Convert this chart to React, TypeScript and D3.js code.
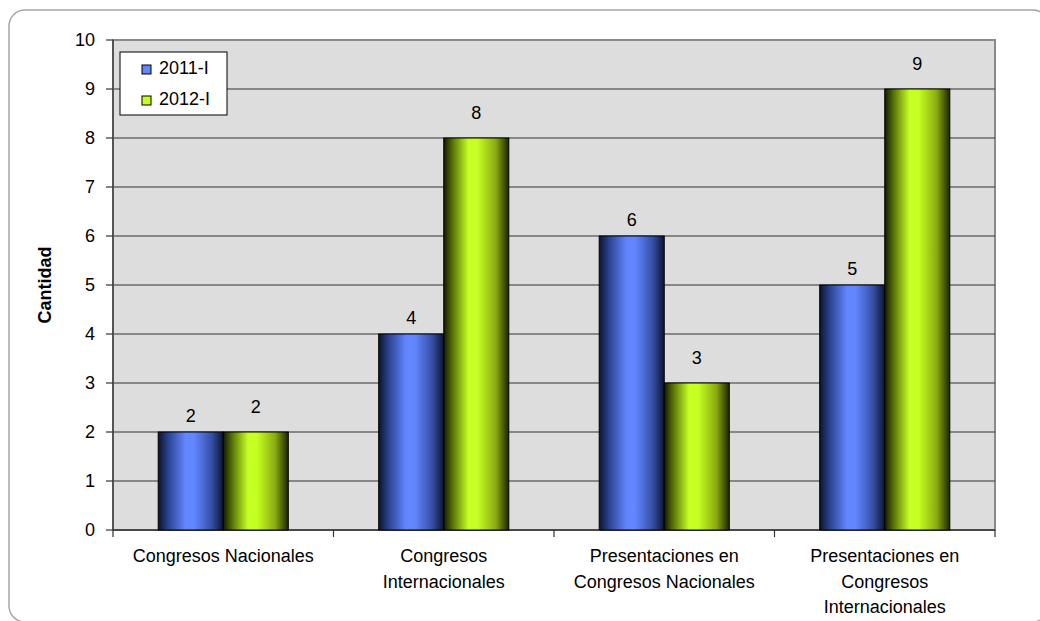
import React, { useEffect } from "react";
import * as d3 from "d3";

// chart data
const categories = [
  ["Congresos Nacionales"],
  ["Congresos", "Internacionales"],
  ["Presentaciones en", "Congresos Nacionales"],
  ["Presentaciones en", "Congresos", "Internacionales"],
];
const seriesNames = ["2011-I", "2012-I"];
const values2011 = [2, 4, 6, 5];
const values2012 = [2, 8, 3, 9];
const yTicks = [0, 1, 2, 3, 4, 5, 6, 7, 8, 9, 10];

const W = 1040;
const H = 621;
const FONT = "'Liberation Sans', Arial, sans-serif";

export default function App() {
  useEffect(() => {
    document.body.style.margin = "0";
  }, []);

  const left = 113;
  const right = 995;
  const top = 40;
  const bottom = 530;

  const x = d3
    .scaleBand<number>()
    .domain(d3.range(categories.length))
    .range([left, right])
    .paddingInner(0.41)
    .paddingOuter(0.205);
  const y = d3.scaleLinear().domain([0, 10]).range([bottom, top]);
  const bw = x.bandwidth() / 2;

  const series = [
    { name: seriesNames[0], values: values2011, grad: "gBlue", swatch: "#6384ff", labelOff: 10 },
    { name: seriesNames[1], values: values2012, grad: "gGreen", swatch: "#c4ff22", labelOff: 19 },
  ];

  // category boundaries for x ticks
  const step = x.step();
  const boundaries = d3.range(categories.length + 1).map((i) => left + i * step);

  return (
    <svg width={W} height={H} style={{ display: "block", background: "#fff" }} fontFamily={FONT}>
      <defs>
        <linearGradient id="gBlue" x1="0" x2="1" y1="0" y2="0">
          <stop offset="0%" stopColor="#0c142c" />
          <stop offset="15%" stopColor="#2a4290" />
          <stop offset="42%" stopColor="#6286ff" />
          <stop offset="55%" stopColor="#6286ff" />
          <stop offset="82%" stopColor="#3650a6" />
          <stop offset="100%" stopColor="#0c1430" />
        </linearGradient>
        <linearGradient id="gGreen" x1="0" x2="1" y1="0" y2="0">
          <stop offset="0%" stopColor="#141a00" />
          <stop offset="15%" stopColor="#5e7a08" />
          <stop offset="38%" stopColor="#c6ff22" />
          <stop offset="52%" stopColor="#c6ff22" />
          <stop offset="80%" stopColor="#8aaa14" />
          <stop offset="100%" stopColor="#1c2400" />
        </linearGradient>
      </defs>

      {/* outer chart border */}
      <rect x={9} y={10} width={1040} height={612} rx={16} ry={16} fill="#fff" stroke="#a6a6a6" strokeWidth={1.5} />

      {/* plot area */}
      <rect x={left} y={top} width={right - left} height={bottom - top} fill="#dddddd" stroke="#8a8a8a" strokeWidth={2} />

      {/* gridlines */}
      {yTicks.slice(1, -1).map((t) => (
        <line key={"g" + t} x1={left} x2={right} y1={y(t)} y2={y(t)} stroke="#333" strokeWidth={1.2} />
      ))}

      {/* axes */}
      <line x1={left} x2={left} y1={top} y2={bottom} stroke="#555" strokeWidth={2} />
      <line x1={left} x2={right} y1={bottom} y2={bottom} stroke="#333" strokeWidth={1.5} />
      {yTicks.map((t) => (
        <g key={"t" + t}>
          <line x1={left - 7} x2={left} y1={y(t)} y2={y(t)} stroke="#333" strokeWidth={1.2} />
          <text x={95} y={y(t)} dy="0.36em" textAnchor="end" fontSize={18} fill="#000">
            {t}
          </text>
        </g>
      ))}
      {boundaries.map((b, i) => (
        <line key={"xb" + i} x1={b} x2={b} y1={bottom} y2={bottom + 7} stroke="#333" strokeWidth={1.2} />
      ))}

      {/* bars */}
      {series.map((s, si) =>
        s.values.map((v, i) => {
          const bx = (x(i) as number) + si * bw;
          return (
            <g key={s.name + i}>
              <rect
                x={bx}
                y={y(v)}
                width={bw}
                height={y(0) - y(v)}
                fill={`url(#${s.grad})`}
                stroke="#000"
                strokeWidth={1}
              />
              <text x={bx + bw / 2} y={y(v) - s.labelOff} textAnchor="middle" fontSize={18} fill="#000">
                {v}
              </text>
            </g>
          );
        })
      )}

      {/* category labels */}
      {categories.map((lines, i) => (
        <text key={"c" + i} x={(x(i) as number) + x.bandwidth() / 2} y={562} textAnchor="middle" fontSize={18} fill="#000">
          {lines.map((l, j) => (
            <tspan key={j} x={(x(i) as number) + x.bandwidth() / 2} dy={j === 0 ? 0 : 25.5}>
              {l}
            </tspan>
          ))}
        </text>
      ))}

      {/* y axis title */}
      <text transform="translate(51,285) rotate(-90)" textAnchor="middle" fontSize={18} fontWeight="bold" fill="#000">
        Cantidad
      </text>

      {/* legend */}
      <rect x={120} y={52} width={107} height={63} fill="#fff" stroke="#000" strokeWidth={1} />
      {series.map((s, si) => (
        <g key={"l" + si}>
          <rect x={142} y={65 + si * 31} width={9} height={9} fill={s.swatch} stroke="#000" strokeWidth={1} />
          <text x={159} y={74 + si * 31} fontSize={18} fill="#000">
            {s.name}
          </text>
        </g>
      ))}
    </svg>
  );
}
